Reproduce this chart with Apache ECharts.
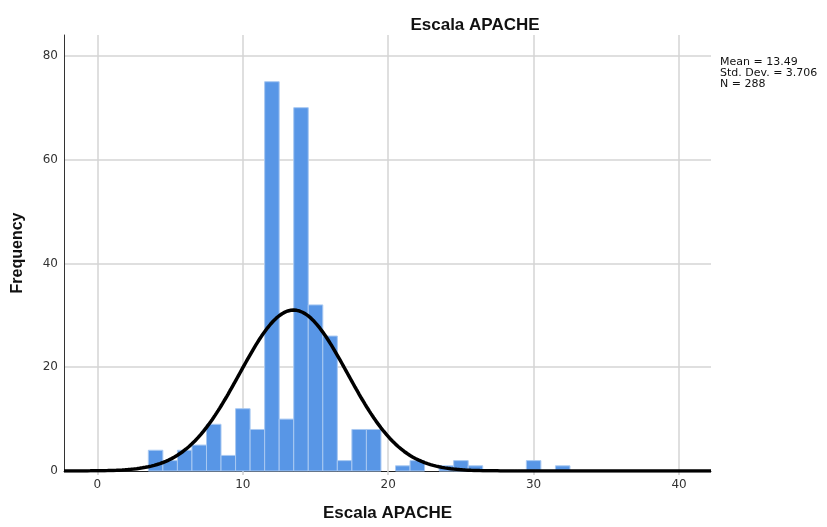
<!DOCTYPE html>
<html>
<head>
<meta charset="utf-8">
<script src="https://cdn.jsdelivr.net/npm/echarts@6/dist/echarts.min.js"></script>
<style>
  html, body { margin: 0; padding: 0; background: #fff; }
</style>
</head>
<body>
<div id="chart" style="width: 827px; height: 527px;"></div>
<script>
// histogram bins (APACHE score) and their counts
const binCenters = [4, 5, 6, 7, 8, 9, 10, 11, 12, 13, 14, 15, 16, 17, 18, 19, 21, 22, 24, 25, 26, 30, 32]
const frequencies = [4, 2, 4, 5, 9, 3, 12, 8, 75, 10, 70, 32, 26, 2, 8, 8, 1, 2, 1, 2, 1, 2, 1]
const xTicks = [0, 10, 20, 30, 40]
const yTicks = [0, 20, 40, 60, 80]

// stats printed next to the chart, also used for the normal curve
const mean = 13.49
const stdDev = 3.706
const n = 288

const xMin = -2.3
const xMax = 42.2

// fitted normal curve: N * binWidth * pdf
const curve = []
for (let x = xMin; x <= xMax + 1e-9; x += 0.1) {
  const z = (x - mean) / stdDev
  curve.push([x, n * Math.exp(-0.5 * z * z) / (stdDev * Math.sqrt(2 * Math.PI))])
}

const chart = echarts.init(document.getElementById('chart'))

chart.setOption({
  animation: false,
  textStyle: { fontFamily: 'DejaVu Sans' },
  title: {
    text: 'Escala APACHE',
    left: 470,
    top: 12,
    textAlign: 'center',
    textStyle: { fontFamily: 'Liberation Sans', fontWeight: 'bold', fontSize: 17, color: '#111' }
  },
  grid: { left: 64, right: 116, top: 35, bottom: 53 },
  xAxis: {
    type: 'value',
    min: xMin,
    max: xMax,
    splitNumber: 5,
    name: 'Escala APACHE',
    nameLocation: 'middle',
    nameGap: 34,
    nameTextStyle: { fontFamily: 'Liberation Sans', fontWeight: 'bold', fontSize: 17, color: '#111' },
    axisLine: { show: true, lineStyle: { color: '#222', width: 1 } },
    axisTick: { show: true, length: 4, lineStyle: { color: '#cfcfcf', width: 1.5 } },
    axisLabel: {
      showMinLabel: false, showMaxLabel: false, margin: 8,
      fontSize: 12, color: '#333',
      formatter: v => xTicks.includes(v) ? String(v) : ''
    },
    splitLine: { show: true, showMinLine: false, showMaxLine: false, lineStyle: { color: '#d4d4d4', width: 1.5 } }
  },
  yAxis: {
    type: 'value',
    min: 0,
    max: 84,
    interval: 20,
    name: 'Frequency',
    nameLocation: 'middle',
    nameGap: 38,
    nameTextStyle: { fontFamily: 'Liberation Sans', fontWeight: 'bold', fontSize: 16, color: '#111' },
    axisLine: { show: true, onZero: false, lineStyle: { color: '#333', width: 1 } },
    axisTick: { show: false },
    axisLabel: {
      showMaxLabel: false, margin: 6, fontSize: 12, color: '#333',
      formatter: v => yTicks.includes(v) ? String(v) : ''
    },
    splitLine: { show: true, showMinLine: false, showMaxLine: false, lineStyle: { color: '#d4d4d4', width: 1.5 } }
  },
  graphic: [
    {
      type: 'text',
      left: 720,
      top: 57,
      style: {
        text: 'Mean = ' + mean + '\nStd. Dev. = ' + stdDev + '\nN = ' + n,
        font: '11px "DejaVu Sans"',
        lineHeight: 11,
        fill: '#111'
      }
    }
  ],
  series: [
    {
      type: 'custom',
      data: binCenters.map((x, i) => [x, frequencies[i]]),
      renderItem: (params, api) => {
        const x = api.value(0)
        const y = api.value(1)
        const p0 = api.coord([x - 0.5, y])
        const p1 = api.coord([x + 0.5, 0])
        return {
          type: 'rect',
          shape: { x: p0[0], y: p0[1], width: p1[0] - p0[0], height: p1[1] - p0[1] },
          style: { fill: '#5896e6', stroke: '#a9c9f2', lineWidth: 1 }
        }
      },
      z: 2
    },
    {
      type: 'line',
      data: curve,
      showSymbol: false,
      smooth: false,
      lineStyle: { color: '#000', width: 3.5 },
      z: 3
    }
  ]
})
</script>
</body>
</html>
